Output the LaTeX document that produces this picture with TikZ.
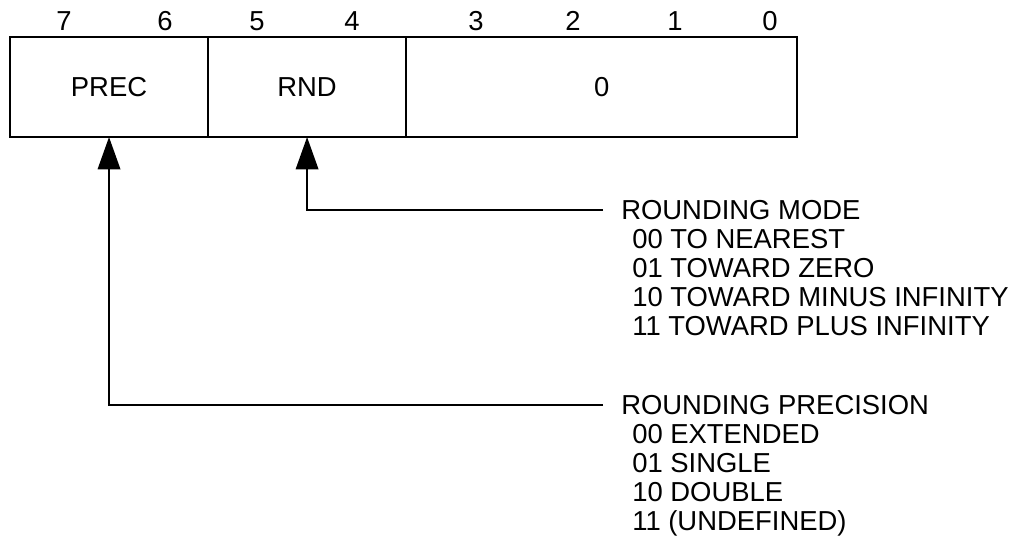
\documentclass[tikz,border=0pt]{standalone}
\usepackage{fontspec}
\setmainfont{Liberation Sans}
\usetikzlibrary{arrows.meta,positioning}
\tikzset{
  field/.style={rectangle, draw=black, line width=1.6pt, minimum height=2.5cm,
                inner sep=0pt, outer sep=0pt, font=\fontsize{19.5}{22}\selectfont},
  bitno/.style={inner sep=0pt, font=\fontsize{19.5}{22}\selectfont},
  hdr/.style={anchor=west, inner sep=0pt, font=\fontsize{19.5}{20.6}\selectfont},
  legend/.style={anchor=north west, align=left, inner sep=0pt,
                 font=\fontsize{19.5}{20.6}\selectfont},
  ptr/.style={-{Triangle[length=23pt, width=16pt]}, draw=black, line width=1.4pt},
}
\begin{document}
\begin{tikzpicture}[x=0.025cm, y=-0.025cm]
  \useasboundingbox (0,0) rectangle (1014,553);
  % control word fields
  \node[field, minimum width=4.95cm, anchor=north west] (prec) at (10,37) {PREC};
  \node[field, minimum width=4.95cm, anchor=north west] (rnd) at (prec.north east) {RND};
  \node[field, minimum width=9.775cm, anchor=north west] (zero) at (rnd.north east) {0};
  % bit numbers
  \foreach \b/\x in {7/64,6/165,5/257,4/352,3/476,2/573,1/675,0/770} {
    \node[bitno] (b\b) at (\x,21) {\b};
  }
  % legends
  \node[hdr] (modehd) at (621,210) {ROUNDING MODE};
  \node[legend] (modelist) at (632,229) {00 TO NEAREST\\01 TOWARD ZERO\\10 TOWARD MINUS INFINITY\\11 TOWARD PLUS INFINITY};
  \node[hdr] (prechd) at (621,405) {ROUNDING PRECISION};
  \node[legend] (preclist) at (632,424) {00 EXTENDED\\01 SINGLE\\10 DOUBLE\\11 (UNDEFINED)};
  % pointers
  \draw[ptr] ([xshift=-0.45cm]modehd.west) -| (rnd.south);
  \draw[ptr] ([xshift=-0.45cm]prechd.west) -| (prec.south);
\end{tikzpicture}
\end{document}
